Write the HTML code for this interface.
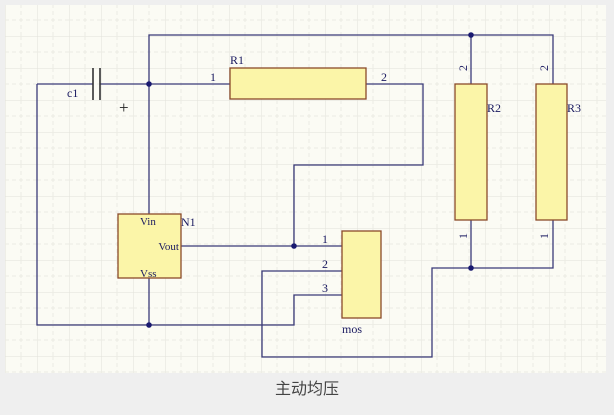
<!DOCTYPE html>
<html><head><meta charset="utf-8"><style>
html,body{margin:0;padding:0;background:#efefef;width:614px;height:415px;overflow:hidden}
.cap{position:absolute;left:0;top:375px;width:614px;text-align:center;font:16px "Liberation Sans","Noto Sans CJK SC",sans-serif;color:#444}
</style></head><body>
<svg width="614" height="415" style="position:absolute;left:0;top:0">
<defs>
<pattern id="g" x="5" y="4" width="32" height="32" patternUnits="userSpaceOnUse">
<path d="M0 0H32M0 0V32" stroke="#e2e2da" stroke-width="1" fill="none"/>
<path d="M0 16H32M16 0V32" stroke="#ebebe3" stroke-width="1" stroke-dasharray="4 3" fill="none"/>
</pattern>
</defs>
<rect x="5" y="5" width="601" height="368" fill="#fbfbf4"/>
<rect x="5" y="5" width="601" height="368" fill="url(#g)"/>
<g stroke="#3a3a78" stroke-width="1.3" fill="none">
<polyline points="149,84 149,35 553,35 553,84"/>
<line x1="471" y1="35" x2="471" y2="84"/>
<line x1="37" y1="84" x2="93" y2="84"/>
<line x1="100" y1="84" x2="230" y2="84"/>
<polyline points="366,84 423,84 423,165 294,165 294,246"/>
<line x1="149" y1="84" x2="149" y2="214"/>
<line x1="181" y1="246" x2="342" y2="246"/>
<polyline points="342,271 262,271 262,357 432,357 432,268 553,268 553,220"/>
<line x1="471" y1="220" x2="471" y2="268"/>
<polyline points="342,295 294,295 294,325 37,325 37,84"/>
<line x1="149" y1="278" x2="149" y2="325"/>
</g>
<g stroke="#333" stroke-width="1.6">
<line x1="93" y1="68" x2="93" y2="100"/><line x1="100" y1="68" x2="100" y2="100"/>
</g>
<g fill="#fbf5a8" stroke="#8a4a2a" stroke-width="1.3">
<rect x="230" y="68" width="136" height="31"/>
<rect x="455" y="84" width="32" height="136"/>
<rect x="536" y="84" width="31" height="136"/>
<rect x="118" y="214" width="63" height="64"/>
<rect x="342" y="231" width="39" height="87"/>
</g>
<g fill="#1a1a70">
<circle cx="149" cy="84" r="2.8"/><circle cx="471" cy="35" r="2.8"/>
<circle cx="294" cy="246" r="2.8"/><circle cx="471" cy="268" r="2.8"/>
<circle cx="149" cy="325" r="2.8"/>
</g>
<g font-family="Liberation Serif,serif" font-size="12" fill="#1a1a60">
<text x="230" y="64">R1</text>
<text x="210" y="81">1</text><text x="381" y="81">2</text>
<text x="67" y="97">c1</text>
<text x="119" y="113" font-size="17" fill="#222">+</text>
<text x="487" y="112">R2</text><text x="567" y="112">R3</text>
<text x="181" y="226">N1</text>
<text x="140" y="225" font-size="11">Vin</text>
<text x="179" y="250" font-size="11" text-anchor="end">Vout</text>
<text x="140" y="277" font-size="11">Vss</text>
<text x="342" y="333">mos</text>
<text x="322" y="243">1</text><text x="322" y="268">2</text><text x="322" y="292">3</text>
<text transform="translate(467,68) rotate(-90)" text-anchor="middle">2</text>
<text transform="translate(548,68) rotate(-90)" text-anchor="middle">2</text>
<text transform="translate(467,236) rotate(-90)" text-anchor="middle">1</text>
<text transform="translate(548,236) rotate(-90)" text-anchor="middle">1</text>
</g>
</svg>
<div class="cap">主动均压</div>
</body></html>
